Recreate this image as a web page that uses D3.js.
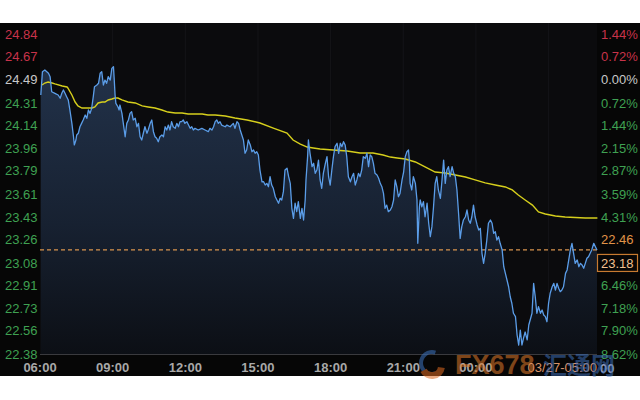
<!DOCTYPE html>
<html><head><meta charset="utf-8">
<script src="https://cdn.jsdelivr.net/npm/d3@7"></script>
<style>html,body{margin:0;padding:0;background:#fff;}svg{display:block;}</style>
</head><body>
<svg id="c" width="640" height="400"></svg>
<script>
// ---- data (minutes from 06:00, price) ----
const priceTimes = [2,6,12,21,25,29,37,45,50,54,58,62,66,70,74,79,83,85,89,91,95,99,103,107,112,116,120,124,128,132,135,141,145,149,153,157,161,165,169,174,178,182,184,186,188,193,196,198,203,207,211,215,219,223,227,231,236,240,244,248,252,256,260,265,268,273,277,281,285,289,293,297,302,306,310,314,318,322,326,330,335,339,343,347,351,355,359,364,368,372,376,380,384,392,401,409,417,421,426,430,434,438,442,446,450,459,463,471,479,483,488,492,496,500,504,508,512,516,521,525,529,533,537,541,545,550,554,558,562,566,570,574,578,583,587,591,595,599,603,607,612,616,620,624,628,632,636,640,645,649,653,657,659,663,665,669,674,678,682,686,690,694,698,702,707,711,715,719,723,727,731,736,740,744,748,752,756,760,764,769,773,777,781,785,789,793,797,801,806,810,814,818,822,826,830,835,839,843,847,851,855,859,863,868,872,876,880,884,888,892,897,901,905,909,913,915,917,921,925,930,934,936,940,942,946,950,954,959,963,967,971,975,979,983,987,992,996,1000,1004,1008,1012,1016,1021,1025,1029,1033,1037,1041,1045,1049,1054,1058,1062,1066,1070,1074,1078,1083,1087,1091,1095,1099,1103,1107,1111,1116,1120,1124,1128,1132,1136,1140,1145,1149,1153,1157,1161,1165,1169,1173,1178,1182,1186,1190,1194,1198,1202,1207,1211,1219,1223,1227,1231,1235,1240,1244,1248,1252,1256,1260,1264,1269,1273,1277,1281,1285,1289,1293,1297,1302,1306,1310,1314,1318,1322,1326,1331,1335,1339,1343,1347,1351,1355,1359,1363,1367,1372,1376,1380];
const priceValues = [24.371,24.550,24.563,24.538,24.512,24.396,24.384,24.371,24.346,24.384,24.410,24.384,24.358,24.333,24.256,24.153,24.050,23.987,24.025,24.064,24.077,24.127,24.153,24.179,24.217,24.192,24.256,24.230,24.269,24.358,24.435,24.448,24.461,24.538,24.550,24.448,24.486,24.461,24.512,24.486,24.576,24.589,24.486,24.371,24.307,24.281,24.256,24.294,24.230,24.140,24.050,24.153,24.179,24.230,24.243,24.179,24.192,24.127,24.153,24.050,24.025,24.077,24.127,24.077,24.102,24.153,24.179,24.089,24.050,24.038,24.012,24.050,24.064,24.050,24.127,24.102,24.140,24.102,24.166,24.127,24.115,24.153,24.127,24.166,24.166,24.179,24.153,24.166,24.140,24.115,24.127,24.102,24.115,24.102,24.115,24.102,24.089,24.115,24.102,24.127,24.166,24.179,24.153,24.166,24.140,24.127,24.140,24.127,24.153,24.115,24.166,24.153,24.102,24.064,24.025,23.923,23.948,24.025,23.987,23.935,23.948,23.923,23.935,23.910,23.794,23.704,23.704,23.679,23.692,23.666,23.743,23.679,23.654,23.589,23.564,23.539,23.577,23.564,23.628,23.794,23.808,23.743,23.692,23.500,23.423,23.539,23.474,23.551,23.423,23.500,23.410,23.564,23.718,23.897,24.025,23.923,23.820,23.846,23.769,23.794,23.871,23.718,23.654,23.769,23.846,23.897,23.743,23.679,23.794,23.897,23.974,24.000,23.923,24.000,23.974,24.012,23.987,23.897,23.743,23.704,23.743,23.769,23.679,23.718,23.769,23.743,23.794,23.897,23.884,23.923,23.820,23.910,23.897,23.846,23.769,23.756,23.731,23.692,23.666,23.615,23.500,23.525,23.474,23.487,23.512,23.564,23.718,23.666,23.589,23.615,23.718,23.781,23.897,23.935,23.948,23.871,23.692,23.641,23.743,23.692,23.564,23.231,23.512,23.564,23.512,23.551,23.435,23.539,23.385,23.282,23.359,23.512,23.692,23.743,23.641,23.577,23.718,23.871,23.692,23.794,23.820,23.743,23.820,23.769,23.743,23.641,23.462,23.269,23.359,23.410,23.435,23.487,23.410,23.385,23.435,23.525,23.435,23.372,23.333,23.346,23.154,23.077,23.154,23.256,23.385,23.410,23.385,23.308,23.320,23.256,23.282,23.231,23.180,23.051,23.000,22.949,22.897,22.820,22.770,22.693,22.667,22.526,22.449,22.564,22.449,22.503,22.549,22.488,22.603,22.693,22.923,22.820,22.693,22.744,22.693,22.718,22.680,22.667,22.628,22.770,22.847,22.897,22.923,22.872,22.923,22.885,22.859,22.872,22.897,23.000,23.026,23.103,23.180,23.231,23.154,23.077,23.103,23.051,23.077,23.064,23.039,23.077,23.116,23.128,23.154,23.180,23.231,23.205,23.180];
const avgTimes = [5,12,20,30,37,55,67,69,79,87,94,104,112,119,129,136,144,154,161,169,178,186,193,203,218,236,253,268,285,302,317,335,352,367,384,402,416,434,459,483,513,545,578,612,627,645,662,677,694,726,761,793,825,850,868,885,905,930,954,979,1004,1029,1054,1078,1103,1128,1153,1170,1185,1202,1220,1235,1252,1277,1301,1326,1351,1381];
const avgValues = [24.448,24.463,24.471,24.463,24.456,24.440,24.433,24.425,24.371,24.317,24.287,24.271,24.271,24.271,24.271,24.279,24.310,24.317,24.317,24.333,24.340,24.348,24.348,24.333,24.317,24.310,24.287,24.279,24.271,24.256,24.240,24.233,24.233,24.225,24.225,24.225,24.217,24.217,24.210,24.194,24.179,24.156,24.117,24.079,24.025,23.994,23.971,23.964,23.956,23.948,23.941,23.925,23.925,23.910,23.894,23.887,23.879,23.856,23.818,23.779,23.771,23.756,23.741,23.718,23.695,23.679,23.664,23.641,23.602,23.564,23.525,23.472,23.456,23.441,23.433,23.429,23.426,23.426];
const lastPrice = 23.18;
const leftTickValues = [24.84,24.67,24.49,24.31,24.14,23.96,23.79,23.61,23.43,23.26,23.08,22.91,22.73,22.56,22.38];
const leftTickLabels = ["24.84","24.67","24.49","24.31","24.14","23.96","23.79","23.61","23.43","23.26","23.08","22.91","22.73","22.56","22.38"];
const rightTickLabels = ["1.44%","0.72%","0.00%","0.72%","1.44%","2.15%","2.87%","3.59%","4.31%","22.46","23.18","6.46%","7.18%","7.90%","8.62%"];
const xTickMinutes = [0,180,360,540,720,900,1080];
const xTickLabels = ["06:00","09:00","12:00","15:00","18:00","21:00","00:00"];
const lastTimeLabel = "03/27-05:00";

// ---- drawing ----
const svg = d3.select("#c");
const W = 640, H = 400;
const x = d3.scaleLinear().domain([0, 1380]).range([40, 597]);
const y = d3.scaleLinear().domain([22.38, 24.84]).range([354, 34]);
const font = "'Liberation Sans', Arial, sans-serif";

svg.append("rect").attr("x",0).attr("y",0).attr("width",W).attr("height",H).attr("fill","#ffffff");
svg.append("rect").attr("x",0).attr("y",23).attr("width",W).attr("height",353).attr("fill","#060606");
svg.append("rect").attr("x",40).attr("y",23).attr("width",557).attr("height",331).attr("fill","#0b0b0d");

// faint vertical grid
svg.append("g").selectAll("line").data(xTickMinutes.slice(1).concat([1260])).join("line")
  .attr("x1",d=>x(d)).attr("x2",d=>x(d)).attr("y1",23).attr("y2",354)
  .attr("stroke","#141418").attr("stroke-width",1);

const defs = svg.append("defs");
const grad = defs.append("linearGradient").attr("id","ag").attr("gradientUnits","userSpaceOnUse")
  .attr("x1",0).attr("y1",y(24.6)).attr("x2",0).attr("y2",y(22.38));
grad.append("stop").attr("offset","0%").attr("stop-color","#22324a");
grad.append("stop").attr("offset","55%").attr("stop-color","#172131");
grad.append("stop").attr("offset","100%").attr("stop-color","#0c0f15");

const pts = priceTimes.map((t,i)=>[t, priceValues[i]]);
svg.append("path").datum(pts)
  .attr("d", d3.area().x(d=>x(d[0])).y0(y(22.38)).y1(d=>y(d[1])))
  .attr("fill","url(#ag)");

// bottom baseline
svg.append("line").attr("x1",40).attr("x2",597).attr("y1",y(22.38)+0.5).attr("y2",y(22.38)+0.5)
  .attr("stroke","#3a3a3e").attr("stroke-width",1);

// last price dashed
svg.append("line").attr("x1",40).attr("x2",597).attr("y1",y(lastPrice)).attr("y2",y(lastPrice))
  .attr("stroke","#d8944e").attr("stroke-width",1.2).attr("stroke-dasharray","4,3");

// average line
svg.append("path").datum(avgTimes.map((t,i)=>[t, avgValues[i]]))
  .attr("d", d3.line().x(d=>x(d[0])).y(d=>y(d[1])))
  .attr("fill","none").attr("stroke","#d6cf1c").attr("stroke-width",1.4);

// price line
svg.append("path").datum(pts)
  .attr("d", d3.line().x(d=>x(d[0])).y(d=>y(d[1])))
  .attr("fill","none").attr("stroke","#5b9de8").attr("stroke-width",1.3).attr("stroke-linejoin","round");

// left axis labels
const red = "#c8334a", green = "#3fa152", white = "#c8c8c8";
svg.append("g").selectAll("text").data(leftTickValues).join("text")
  .attr("x",5).attr("y",d=>y(d)).attr("dy","0.36em")
  .attr("font-family",font).attr("font-size",13)
  .attr("fill",(d,i)=> i<2 ? red : (i===2 ? white : green))
  .text((d,i)=>leftTickLabels[i]);

// right axis labels
const rg = svg.append("g");
rightTickLabels.forEach((lab,i)=>{
  const yy = y(leftTickValues[i]);
  if (i===10) {
    rg.append("rect").attr("x",597.5).attr("y",yy-8.5).attr("width",40).attr("height",17)
      .attr("fill","#060606").attr("stroke","#c77a30").attr("stroke-width",1.2);
  }
  rg.append("text").attr("x",601).attr("y",yy).attr("dy","0.36em")
    .attr("font-family",font).attr("font-size",13)
    .attr("fill", i<2 ? red : (i===2 ? white : (i===9 ? "#e09448" : (i===10 ? "#f0c090" : green))))
    .text(lab);
});

// x axis labels
svg.append("g").selectAll("text").data(xTickMinutes).join("text")
  .attr("x",d=>x(d)).attr("y",367).attr("dy","0.36em").attr("text-anchor","middle")
  .attr("font-family",font).attr("font-size",13).attr("font-weight","bold")
  .attr("fill","#a8a8a8").text((d,i)=>xTickLabels[i]);

svg.append("text").attr("x",x(1380)).attr("y",367).attr("dy","0.36em").attr("text-anchor","end")
  .attr("font-family",font).attr("font-size",13).attr("fill","#d8946a").text(lastTimeLabel);
svg.append("text").attr("x",600).attr("y",368).attr("dy","0.36em")
  .attr("font-family",font).attr("font-size",13).attr("font-weight","bold").attr("fill","#9aa0b8").text("00");

// watermark
const wm = svg.append("g").attr("opacity",0.55);
wm.append("path").attr("d", d3.arc()({innerRadius:9,outerRadius:13,startAngle:Math.PI*0.9,endAngle:Math.PI*2.1}))
  .attr("transform","translate(432,363)").attr("fill","#3d74c0");
wm.append("path").attr("d", d3.arc()({innerRadius:6,outerRadius:13,startAngle:Math.PI*0.55,endAngle:Math.PI*1.35}))
  .attr("transform","translate(432,366)").attr("fill","#e06a20");
wm.append("text").attr("x",455).attr("y",374).attr("font-family",font).attr("font-size",27).attr("font-weight","bold")
  .attr("fill","#e07a2a").text("FX678");
wm.append("text").attr("x",543).attr("y",374).attr("font-family","'Noto Sans CJK SC', sans-serif").attr("font-size",24).attr("font-weight","bold")
  .attr("fill","#3d6fb8").text("汇通网");
</script>
</body></html>
